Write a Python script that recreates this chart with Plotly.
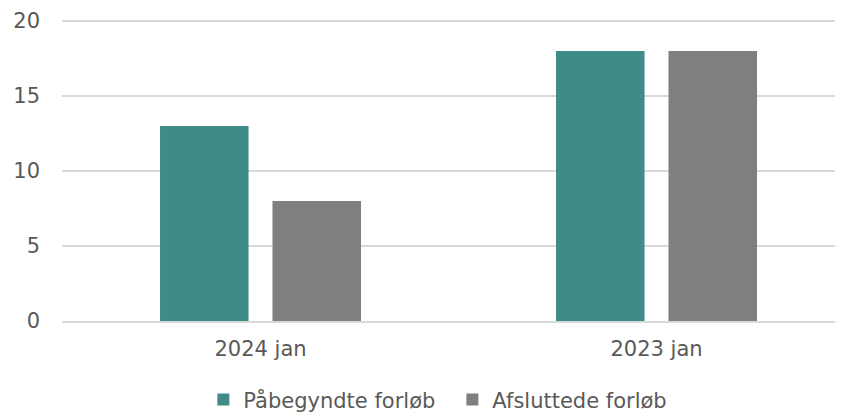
import plotly.graph_objects as go

categories = ["2024 jan", "2023 jan"]
series_names = ["Påbegyndte forløb", "Afsluttede forløb"]
started = [13, 18]
finished = [8, 18]
y_ticks = [0, 5, 10, 15, 20]

colors = ["#3F8B87", "#7F7F7F"]
font_family = "DejaVu Sans, Verdana, sans-serif"
text_color = "#595959"
fs = 21

fig = go.Figure()
for name, vals, c in zip(series_names, [started, finished], colors):
    fig.add_trace(go.Bar(x=categories, y=vals, name=name, marker_color=c,
                         marker_line_width=0))

fig.update_layout(
    width=851, height=416,
    margin=dict(l=62, r=16, t=20, b=95, autoexpand=False),
    paper_bgcolor="white", plot_bgcolor="white",
    font=dict(family=font_family, size=fs, color=text_color),
    barmode="group", bargap=0.432, bargroupgap=0.213,
    showlegend=True,
    legend=dict(orientation="h", x=0.505, xanchor="center", y=-0.262, yanchor="middle",
                font=dict(size=fs, color=text_color), itemwidth=30,
                entrywidth=204, traceorder="normal"),
    xaxis=dict(type="category", range=[-0.5013, 1.4507], showgrid=False,
               automargin=False,
               showline=True, linecolor="#D9D9D9", linewidth=1.5, ticks="",
               ticklabelstandoff=8,
               tickfont=dict(size=fs, color=text_color)),
    yaxis=dict(range=[0, 20.07], tickvals=y_ticks, showgrid=True, gridcolor="#D9D9D9",
               automargin=False,
               gridwidth=1.5, zeroline=False, showline=False, ticks="",
               ticklabelstandoff=21, tickfont=dict(size=fs, color=text_color)),
)

fig.write_html("out.html",
               config={"displayModeBar": False},
               post_script="document.body.style.margin='0';document.body.style.overflow='hidden';")
